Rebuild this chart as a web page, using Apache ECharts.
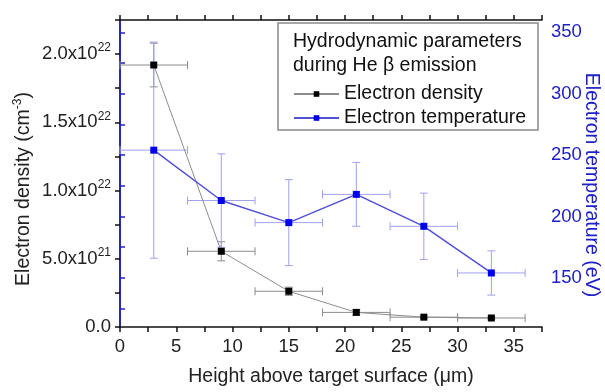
<!DOCTYPE html>
<html>
<head>
<meta charset="utf-8">
<script src="https://cdn.jsdelivr.net/npm/echarts@6/dist/echarts.min.js"></script>
<style>
  html, body { margin: 0; padding: 0; background: #fff; }
  #chart { width: 605px; height: 392px; }
</style>
</head>
<body>
<div id="chart"></div>
<script>
// ---- data ----
const heights = [3, 9, 15, 21, 27, 33];           // um
const heightErr = [3, 3, 3, 3, 3, 3];
const densityValues = [1.92e22, 5.55e21, 2.62e21, 1.07e21, 0.72e21, 0.66e21];   // cm^-3
const densityErr = [1.6e21, 0.7e21, 0.3e21, 0.2e21, 0.08e21, 0.08e21];
const tempValues = [254, 213, 195, 218, 192, 154];  // eV
const tempErr = [88, 38, 35, 26, 27, 18];

// tick labels
const densityTickLabels = ['0.0', '{m|5.0x10}{s|21}', '{m|1.0x10}{s|22}', '{m|1.5x10}{s|22}', '{m|2.0x10}{s|22}'];
const tempLabelValues = [150, 200, 250, 300, 350];
const tempTickValues = [125, 150, 175, 200, 225, 250, 275, 300, 325, 350];

const FONT = 'Liberation Sans, Arial, sans-serif';
const BLUE_AXIS = '#2020c8';
const TICK_FS = 18.5;
const NAME_FS = 19.5;

const chart = echarts.init(document.getElementById('chart'));

// error bars (vertical + horizontal with caps)
function errBars(params, api) {
  const x = api.value(0), y = api.value(1), ex = api.value(2), ey = api.value(3);
  const top = api.coord([x, y + ey]);
  const bot = api.coord([x, y - ey]);
  const l = api.coord([x - ex, y]);
  const r = api.coord([x + ex, y]);
  const cap = 4;
  const style = { stroke: api.visual('color'), lineWidth: 1 };
  const seg = (x1, y1, x2, y2) => ({ type: 'line', shape: { x1, y1, x2, y2 }, style });
  return {
    type: 'group',
    children: [
      seg(top[0], top[1], bot[0], bot[1]),
      seg(top[0] - cap, top[1], top[0] + cap, top[1]),
      seg(bot[0] - cap, bot[1], bot[0] + cap, bot[1]),
      seg(l[0], l[1], r[0], r[1]),
      seg(l[0], l[1] - cap, l[0], l[1] + cap),
      seg(r[0], r[1] - cap, r[0], r[1] + cap)
    ]
  };
}

const densityPts = heights.map((h, i) => [h, densityValues[i]]);
const tempPts = heights.map((h, i) => [h, tempValues[i]]);
const densityErrData = heights.map((h, i) => [h, densityValues[i], heightErr[i], densityErr[i]]);
const tempErrData = heights.map((h, i) => [h, tempValues[i], heightErr[i], tempErr[i]]);

const blackAxis = { lineStyle: { color: '#111', width: 1.5 } };

const option = {
  animation: false,
  textStyle: { fontFamily: FONT },
  grid: { left: 120, right: 63, top: 20, bottom: 63, containLabel: false },
  xAxis: [
    {
      type: 'value', position: 'bottom', min: 0, max: 37.5, interval: 2.5,
      axisLine: blackAxis,
      axisTick: { length: 5, lineStyle: { color: '#111', width: 1.5 } },
      axisLabel: {
        margin: 10, fontSize: TICK_FS, color: '#222', fontFamily: FONT,
        formatter: v => (Math.abs(v % 5) < 1e-9 ? String(v) : '')
      },
      splitLine: { show: false },
      name: 'Height above target surface (\u03bcm)',
      nameLocation: 'middle', nameGap: 40,
      nameTextStyle: { fontSize: NAME_FS, color: '#222', fontFamily: FONT }
    },
    {
      type: 'value', position: 'top', min: 0, max: 37.5, interval: 2.5,
      axisLine: blackAxis,
      axisTick: { length: 5, lineStyle: { color: '#111', width: 1.5 } },
      axisLabel: { show: false },
      splitLine: { show: false }
    }
  ],
  yAxis: [
    {
      type: 'value', position: 'left', min: 0, max: 2.25e22, interval: 2.5e21,
      axisLine: { show: true, lineStyle: { color: '#111', width: 1.5 } },
      axisTick: { show: true, length: 5, lineStyle: { color: '#111', width: 1.5 } },
      axisLabel: {
        margin: 9, color: '#222', fontFamily: FONT, fontSize: TICK_FS,
        formatter: v => {
          const k = Math.round(v / 5e21);
          if (Math.abs(v - k * 5e21) > 1e18) return '';
          return densityTickLabels[k] || '';
        },
        rich: {
          m: { fontSize: TICK_FS, color: '#222', fontFamily: FONT },
          s: { fontSize: 12, color: '#222', fontFamily: FONT, padding: [0, 0, 12, 0] }
        }
      },
      splitLine: { show: false }
    },
    {
      type: 'value', position: 'right', min: 110, max: 360,
      axisLine: { show: true, lineStyle: { color: BLUE_AXIS, width: 1.5 } },
      axisTick: { show: true, length: 5, customValues: tempTickValues, lineStyle: { color: BLUE_AXIS, width: 1.5 } },
      axisLabel: { customValues: tempLabelValues, margin: 9, fontSize: TICK_FS, color: BLUE_AXIS, fontFamily: FONT },
      splitLine: { show: false }
    }
  ],
  legend: {
    data: ['Electron density', 'Electron temperature'],
    orient: 'vertical', left: 288, top: 79,
    itemWidth: 45, itemHeight: 7, itemGap: 4,
    textStyle: { fontSize: NAME_FS, color: '#111', fontFamily: FONT },
    z: 10
  },
  graphic: [
    {
      type: 'rect', z: 5,
      shape: { x: 278, y: 23, width: 260, height: 107 },
      style: { fill: '#fff', stroke: '#8a8a8a', lineWidth: 1.5 }
    },
    {
      type: 'text', z: 6, left: 293, top: 30,
      style: {
        text: 'Hydrodynamic parameters\nduring He \u03b2 emission',
        font: NAME_FS + 'px ' + FONT, lineHeight: 24, fill: '#111'
      }
    },
    {
      // left axis title
      type: 'text', z: 6, x: 24, y: 189, rotation: Math.PI / 2,
      style: {
        text: '{n|Electron density (cm}{s|-3}{n|)}',
        align: 'center', verticalAlign: 'middle',
        rich: {
          n: { fontSize: NAME_FS, fill: '#222', fontFamily: FONT },
          s: { fontSize: 12, fill: '#222', fontFamily: FONT, padding: [0, 0, 12, 0] }
        }
      }
    },
    {
      // right axis title
      type: 'text', z: 6, x: 591, y: 185, rotation: -Math.PI / 2,
      style: {
        text: 'Electron temperature (eV)',
        align: 'center', verticalAlign: 'middle',
        font: NAME_FS + 'px ' + FONT, fill: BLUE_AXIS
      }
    }
  ],
  series: [
    {
      type: 'custom', name: 'densityErr', xAxisIndex: 0, yAxisIndex: 0,
      renderItem: errBars, data: densityErrData,
      itemStyle: { color: '#8c8c8c' }, z: 1, silent: true
    },
    {
      type: 'custom', name: 'tempErr', xAxisIndex: 0, yAxisIndex: 1,
      renderItem: errBars, data: tempErrData,
      itemStyle: { color: '#a0a0ee' }, z: 1, silent: true
    },
    {
      type: 'line', name: 'Electron density', xAxisIndex: 0, yAxisIndex: 0,
      data: densityPts, symbol: 'rect', symbolSize: 7,
      itemStyle: { color: '#000' },
      lineStyle: { color: '#8c8c8c', width: 1 }, z: 3
    },
    {
      type: 'line', name: 'Electron temperature', xAxisIndex: 0, yAxisIndex: 1,
      data: tempPts, symbol: 'rect', symbolSize: 7,
      itemStyle: { color: '#0000ee' },
      lineStyle: { color: '#5050d8', width: 1.5 }, z: 3
    }
  ]
};

chart.setOption(option);
</script>
</body>
</html>
